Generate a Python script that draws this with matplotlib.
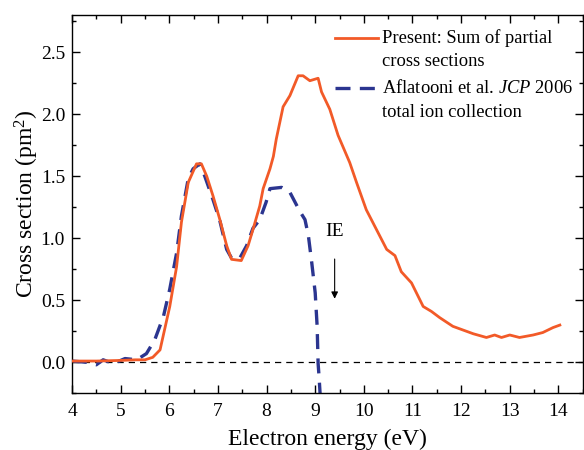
import matplotlib
matplotlib.use("Agg")
import matplotlib.pyplot as plt
from matplotlib.lines import Line2D
from matplotlib.ticker import MultipleLocator, FormatStrFormatter

plt.rcParams['font.family'] = ['Liberation Serif', 'DejaVu Serif']
plt.rcParams['mathtext.fontset'] = 'custom'
plt.rcParams['mathtext.rm'] = 'Liberation Serif'
plt.rcParams['mathtext.it'] = 'Liberation Serif:italic'

# Present: sum of partial cross sections
present_x = [4.0, 4.5, 5.0, 5.3, 5.5, 5.66, 5.81, 6.01, 6.15, 6.25, 6.39, 6.56, 6.66, 6.77,
             6.90, 7.04, 7.18, 7.28, 7.48, 7.62, 7.72, 7.86, 7.93, 8.07, 8.14, 8.20, 8.34,
             8.48, 8.65, 8.75, 8.89, 9.06, 9.13, 9.30, 9.47, 9.71, 9.85, 10.05, 10.26,
             10.47, 10.64, 10.77, 10.98, 11.22, 11.39, 11.56, 11.83, 12.04, 12.25, 12.52,
             12.69, 12.83, 13.0, 13.2, 13.48, 13.68, 13.89, 14.03]
present_y = [0.01, 0.01, 0.015, 0.02, 0.02, 0.04, 0.10, 0.45, 0.77, 1.13, 1.45, 1.60, 1.60, 1.50,
             1.34, 1.15, 0.94, 0.83, 0.82, 0.94, 1.07, 1.26, 1.40, 1.56, 1.66, 1.80, 2.06,
             2.15, 2.31, 2.31, 2.27, 2.29, 2.18, 2.04, 1.83, 1.61, 1.45, 1.23, 1.07,
             0.91, 0.86, 0.73, 0.64, 0.45, 0.41, 0.36, 0.29, 0.26, 0.23, 0.20,
             0.22, 0.20, 0.22, 0.20, 0.22, 0.24, 0.28, 0.30]

# Aflatooni et al. JCP 2006 total ion collection
afl_x = [4.0, 4.3, 4.5, 4.64, 4.85, 5.09, 5.33, 5.53, 5.70, 5.88, 6.01, 6.15, 6.25, 6.39,
         6.49, 6.63, 6.73, 6.90, 7.04, 7.18, 7.28, 7.45, 7.59, 7.72, 7.86, 7.99, 8.07,
         8.31, 8.48, 8.68, 8.79, 8.86, 8.93, 9.00, 9.04, 9.06, 9.08, 9.10]
afl_y = [0.01, 0.0, -0.02, 0.02, -0.01, 0.03, 0.02, 0.07, 0.18, 0.37, 0.59, 0.88, 1.18, 1.48,
         1.56, 1.60, 1.50, 1.31, 1.14, 0.91, 0.84, 0.84, 0.94, 1.08, 1.15, 1.29, 1.40,
         1.41, 1.37, 1.22, 1.15, 1.02, 0.80, 0.56, 0.29, -0.01, -0.12, -0.25]

x_ticks = [4, 5, 6, 7, 8, 9, 10, 11, 12, 13, 14]
y_ticks = [0.0, 0.5, 1.0, 1.5, 2.0, 2.5]

orange = '#F25A28'
navy = '#2B3590'

fig = plt.figure(figsize=(5.84, 4.5), dpi=100)
ax = fig.add_axes([0.1233, 0.126, 0.8745, 0.8407])

ax.axhline(0, color='black', lw=0.9, dashes=(5, 4), zorder=1)
ax.plot(present_x, present_y, color=orange, lw=2.0, zorder=3)
ax.plot(afl_x, afl_y, color=navy, lw=2.4, dashes=(4.5, 2.8), zorder=2)

ax.set_xlim(4, 14.5)
ax.set_ylim(-0.25, 2.8)
ax.set_xticks(x_ticks)
ax.set_yticks(y_ticks)
ax.xaxis.set_minor_locator(MultipleLocator(0.5))
ax.yaxis.set_minor_locator(MultipleLocator(0.25))
ax.yaxis.set_major_formatter(FormatStrFormatter('%.1f'))
ax.tick_params(which='both', direction='in', top=True, right=True, labelsize=14, width=1.0)
ax.tick_params(which='major', length=5.5, pad=5)
ax.tick_params(axis='x', which='major', pad=7)
ax.tick_params(which='minor', length=3)
for s in ax.spines.values():
    s.set_linewidth(1.0)

ax.set_xlabel('Electron energy (eV)', fontsize=17, labelpad=6)
ax.set_ylabel('Cross section (pm$^2$)', fontsize=17, labelpad=0)

# IE annotation
ax.text(9.4, 1.057, 'IE', ha='center', va='center', fontsize=14)
ax.annotate('', xy=(9.4, 0.49), xytext=(9.4, 0.855),
            arrowprops=dict(arrowstyle='-|>', color='black', lw=0.8, mutation_scale=10))

# legend (manual, axes coordinates)
tr = ax.transAxes
ax.add_line(Line2D([0.515, 0.599], [0.940, 0.940], color=orange, lw=2.0, transform=tr))
ax.add_line(Line2D([0.515, 0.599], [0.806, 0.806], color=navy, lw=2.4, dashes=(4.5, 2.8), transform=tr))
fs = 13.3
ax.text(0.607, 0.940, 'Present: Sum of partial', transform=tr, fontsize=fs, va='center', ha='left')
ax.text(0.607, 0.876, 'cross sections', transform=tr, fontsize=fs, va='center', ha='left')
ax.text(0.607, 0.806, r'Aflatooni et al. $\it{JCP}$ 2006', transform=tr, fontsize=fs, va='center', ha='left')
ax.text(0.607, 0.742, 'total ion collection', transform=tr, fontsize=fs, va='center', ha='left')

fig.savefig('out.png', dpi=100)
